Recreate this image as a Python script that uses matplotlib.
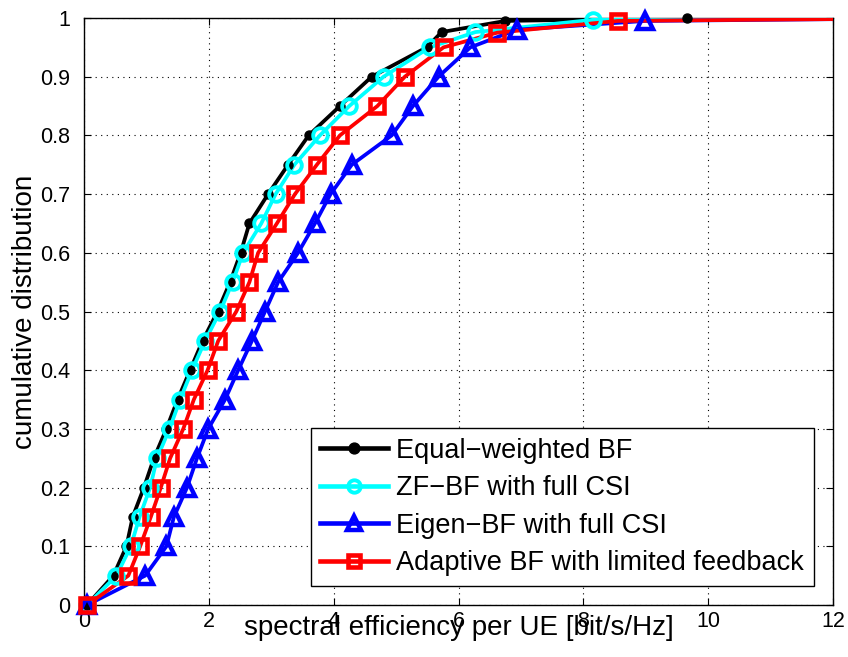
import matplotlib
matplotlib.use("Agg")
import matplotlib.pyplot as plt
import numpy as np

plt.rcParams['font.family'] = ['Liberation Sans', 'DejaVu Sans']

# Data (spectral efficiency [bit/s/Hz] vs CDF)
eq_x = [0.05, 0.47, 0.68, 0.78, 0.96, 1.12, 1.32, 1.50, 1.70, 1.90, 2.14, 2.34, 2.51,
        2.65, 2.95, 3.27, 3.60, 4.10, 4.61, 5.49, 5.73, 6.75, 9.66, 14.0]
eq_y = [0, 0.05, 0.1, 0.15, 0.2, 0.25, 0.3, 0.35, 0.4, 0.45, 0.5, 0.55, 0.6,
        0.65, 0.7, 0.75, 0.8, 0.85, 0.9, 0.95, 0.976, 0.995, 1.0, 1.0]

zf_x = [0.05, 0.52, 0.75, 0.89, 1.06, 1.17, 1.37, 1.54, 1.73, 1.94, 2.18, 2.38, 2.55,
        2.84, 3.07, 3.37, 3.78, 4.25, 4.80, 5.54, 6.27, 8.16, 14.0]
zf_y = [0, 0.05, 0.1, 0.15, 0.2, 0.25, 0.3, 0.35, 0.4, 0.45, 0.5, 0.55, 0.6,
        0.65, 0.7, 0.75, 0.8, 0.85, 0.9, 0.95, 0.976, 0.997, 1.0]

eig_x = [0.05, 0.98, 1.32, 1.44, 1.65, 1.81, 1.99, 2.26, 2.47, 2.69, 2.90, 3.11, 3.43,
         3.70, 3.95, 4.29, 4.93, 5.27, 5.68, 6.19, 6.93, 8.99, 14.0]
eig_y = [0, 0.05, 0.1, 0.15, 0.2, 0.25, 0.3, 0.35, 0.4, 0.45, 0.5, 0.55, 0.6,
         0.65, 0.7, 0.75, 0.8, 0.85, 0.9, 0.95, 0.98, 0.995, 1.0]

ad_x = [0.05, 0.71, 0.90, 1.07, 1.23, 1.38, 1.59, 1.76, 1.98, 2.15, 2.44, 2.65, 2.79,
        3.09, 3.38, 3.73, 4.10, 4.70, 5.14, 5.76, 6.62, 8.55, 14.0]
ad_y = [0, 0.05, 0.1, 0.15, 0.2, 0.25, 0.3, 0.35, 0.4, 0.45, 0.5, 0.55, 0.6,
        0.65, 0.7, 0.75, 0.8, 0.85, 0.9, 0.95, 0.975, 0.995, 1.0]

labels = ["Equal\u2212weighted BF", "ZF\u2212BF with full CSI",
          "Eigen\u2212BF with full CSI", "Adaptive BF with limited feedback"]

x_ticks = [0, 2, 4, 6, 8, 10, 12]
y_ticks = [0, 0.1, 0.2, 0.3, 0.4, 0.5, 0.6, 0.7, 0.8, 0.9, 1]
y_ticklabels = ["0", "0.1", "0.2", "0.3", "0.4", "0.5", "0.6", "0.7", "0.8", "0.9", "1"]

fig = plt.figure(figsize=(8.48, 6.57), dpi=100)
ax = fig.add_axes([84/848, 52/657, 749/848, 587/657])

XMAX = 12
LW = 2.7

series = [
    (eq_x, eq_y, dict(color='black', marker='o', markersize=6.5, markerfacecolor='black',
                      markeredgecolor='black', markeredgewidth=1.0)),
    (zf_x, zf_y, dict(color='cyan', marker='o', markersize=10.5, markerfacecolor='none',
                      markeredgecolor='cyan', markeredgewidth=2.8)),
    (eig_x, eig_y, dict(color='blue', marker='^', markersize=12, markerfacecolor='none',
                        markeredgecolor='blue', markeredgewidth=3.2)),
    (ad_x, ad_y, dict(color='red', marker='s', markersize=9.5, markerfacecolor='none',
                      markeredgecolor='red', markeredgewidth=3.3)),
]

handles = []
for (xs, ys, st), lab in zip(series, labels):
    xs = np.asarray(xs); ys = np.asarray(ys)
    vis = xs <= XMAX
    ax.plot(xs, ys, color=st['color'], linewidth=LW, zorder=3, solid_joinstyle='round')
    ax.plot(xs[vis], ys[vis], linestyle='none', clip_on=False, zorder=4,
            **{k: v for k, v in st.items() if k != 'color'})
    leg_st = dict(st)
    leg_st['markersize'] = st['markersize'] * (1.2 if st['marker'] == 'o' and st['markerfacecolor'] == 'black' else 0.85)
    h, = ax.plot([], [], linewidth=LW + 0.6, label=lab, **leg_st)
    handles.append(h)

ax.set_xlim(0, 12)
ax.set_ylim(0, 1)
ax.set_xticks(x_ticks)
ax.set_xticklabels([str(t) for t in x_ticks])
ax.set_yticks(y_ticks)
ax.set_yticklabels(y_ticklabels)
ax.tick_params(direction='in', top=True, right=True, length=5, width=0.8,
               labelsize=15.5)
ax.tick_params(axis='x', pad=4)
ax.tick_params(axis='y', pad=10)
ax.grid(True, linestyle=(0, (1, 4)), color='black', linewidth=0.8)
for s in ax.spines.values():
    s.set_linewidth(1.0)

ax.set_xlabel("spectral efficiency per UE [bit/s/Hz]", fontsize=20)
ax.xaxis.set_label_coords(0.5, -0.017)
ax.set_ylabel("cumulative distribution", fontsize=20)
ax.yaxis.set_label_coords(-0.062, 0.5)

leg = ax.legend(handles=handles, loc='lower right', fontsize=19.5, frameon=True,
                fancybox=False, edgecolor='black', framealpha=1, handlelength=2.5,
                borderaxespad=0.72, labelspacing=0.42, handletextpad=0.3,
                borderpad=0.35)
leg.get_frame().set_linewidth(1.0)

fig.savefig("out.png", dpi=100)
